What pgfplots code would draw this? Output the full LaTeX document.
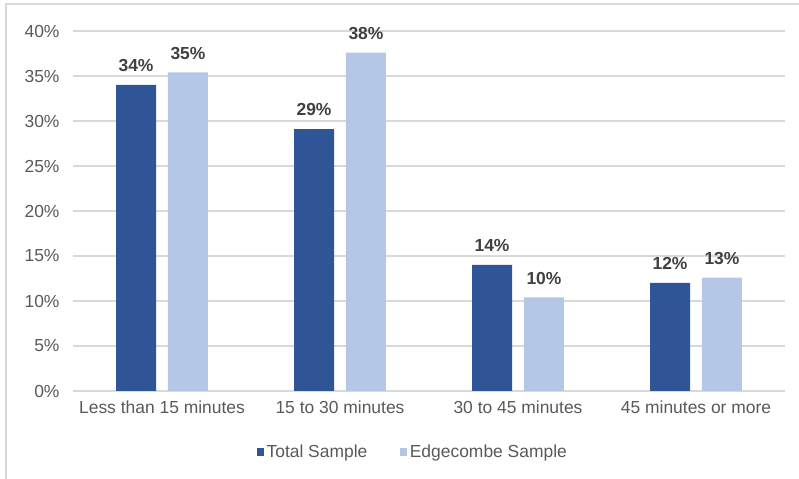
\documentclass[border=0pt]{standalone}
\usepackage{fontspec}
\setmainfont{Liberation Sans}
\usepackage{pgfplots}
\pgfplotsset{compat=1.18}

\definecolor{totalblue}{HTML}{2F5597}
\definecolor{edgeblue}{HTML}{B4C7E7}
\definecolor{gridgray}{HTML}{D9D9D9}
\definecolor{ticktext}{HTML}{595959}
\definecolor{labeltext}{HTML}{404040}

\newcommand{\chartfont}{\fontsize{17.5}{20}\selectfont}

\begin{document}
\begin{tikzpicture}
  % page frame
  \path[use as bounding box] (0bp,0bp) rectangle (799bp,479bp);
  \draw[gridgray, line width=2bp] (6bp,0bp) -- (6bp,475bp) -- (799bp,475bp);

  \begin{axis}[
    at={(73bp,88bp)}, anchor=south west,
    scale only axis, width=712bp, height=360bp,
    xmin=-0.5, xmax=3.5, ymin=0, ymax=40,
    /pgf/number format/assume math mode=true,
    ybar, bar width=0.2247,
    axis x line*=bottom,
    axis y line*=left,
    x axis line style={gridgray, line width=1.3bp},
    y axis line style={draw=none},
    major tick length=0pt,
    xtick={0,1,2,3},
    xticklabels={Less than 15 minutes, 15 to 30 minutes, 30 to 45 minutes, 45 minutes or more},
    ytick={0,5,...,40},
    yticklabel={\pgfmathprintnumber{\tick}\%},
    ymajorgrids,
    grid style={gridgray, line width=1.3bp},
    tick label style={font=\chartfont, text=ticktext},
    xticklabel style={yshift=-6bp},
    yticklabel style={xshift=-10bp},
    nodes near coords={\pgfmathprintnumber[fixed,precision=0,assume math mode=true]{\pgfplotspointmeta}\%},
    nodes near coords style={font=\bfseries\chartfont, text=labeltext, anchor=south, inner sep=0pt, yshift=13bp},
    legend style={at={(0.4775,-0.169)}, anchor=center, draw=none, fill=none,
      legend columns=2, font=\chartfont, text=ticktext,
      nodes={inner sep=2.5bp},
      /tikz/every even column/.append style={column sep=30bp}},
    legend image code/.code={\fill[#1] (0bp,-4bp) rectangle (7.5bp,3.5bp);},
  ]
    \addplot[fill=totalblue, draw=none, bar shift=-0.146]
      coordinates {(0,34.0) (1,29.1) (2,14.0) (3,12.0)};
    \addplot[fill=edgeblue, draw=none, bar shift=0.146]
      coordinates {(0,35.4) (1,37.6) (2,10.4) (3,12.6)};
    \legend{Total Sample, Edgecombe Sample}
  \end{axis}
\end{tikzpicture}
\end{document}
